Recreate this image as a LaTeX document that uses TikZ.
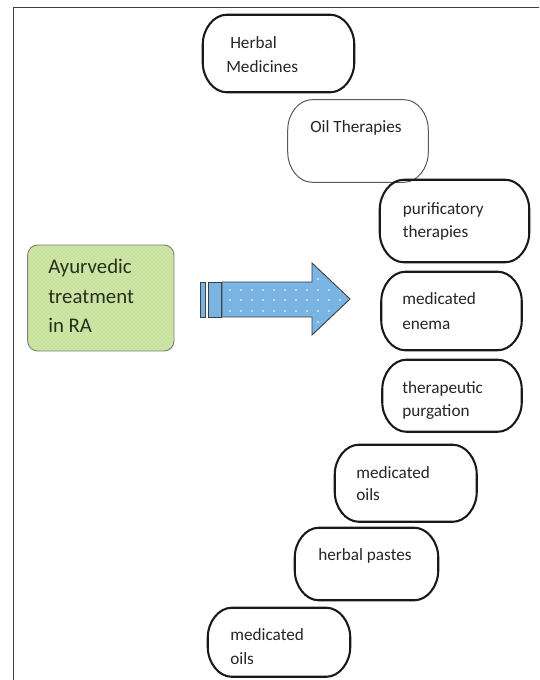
\documentclass[tikz,border=0pt]{standalone}
\usepackage{fontspec}
\setmainfont{Carlito}
\usetikzlibrary{calc,fit,patterns}
\definecolor{txt}{HTML}{262626}
\definecolor{frame}{HTML}{404040}
\definecolor{gfill}{HTML}{C8E29E}
\definecolor{gdot}{HTML}{E2F0CC}
\definecolor{gtxt}{HTML}{26301A}
\definecolor{afill}{HTML}{7AB4E2}
\definecolor{adot}{HTML}{D6EAF8}
\newcommand\pillbox[6]{%
 \node[fit={(#2,#3) (#4,#5)}, inner sep=0pt, draw=none] (#1) {};
 \draw[#6] ($(#1.north west)+(24,0)$) -- ($(#1.north east)+(-24,0)$)
   .. controls ($(#1.north east)+(-11,0)$) and ($(#1.north east)+(0,14)$) .. ($(#1.north east)+(0,30)$)
   -- ($(#1.south east)+(0,-30)$)
   .. controls ($(#1.south east)+(0,-14)$) and ($(#1.south east)+(-11,0)$) .. ($(#1.south east)+(-24,0)$)
   -- ($(#1.south west)+(24,0)$)
   .. controls ($(#1.south west)+(11,0)$) and ($(#1.south west)+(0,-14)$) .. ($(#1.south west)+(0,-30)$)
   -- ($(#1.north west)+(0,30)$)
   .. controls ($(#1.north west)+(0,14)$) and ($(#1.north west)+(11,0)$) .. ($(#1.north west)+(24,0)$) -- cycle;
}
\begin{document}
\begin{tikzpicture}[x=0.75pt,y=-0.75pt,
  thick pill/.style={draw=black!90, line width=1.55pt},
  thin pill/.style={draw=black!65, line width=0.75pt},
  lbl/.style={anchor=base west, inner sep=0pt, text=txt, font=\fontsize{12.9}{15}\selectfont},
  glbl/.style={anchor=base west, inner sep=0pt, text=gtxt, font=\fontsize{15.6}{18}\selectfont},
  ]
\useasboundingbox (0,0) rectangle (539,680);
\clip (0,0) rectangle (539,680);
\fill[white] (0,0) rectangle (539,680);
% outer frame
\draw[draw=frame, line width=1.3pt] (13.4,700) -- (13.4,7.5) -- (560,7.5);

% green box
\node[fit={(27.7,245) (174,351)}, inner sep=0pt, draw=black!50, line width=0.7pt,
      rounded corners=7.5pt, preaction={fill=gfill}, pattern=crosshatch dots, pattern color=gdot] (ayur) {};
\node[glbl] (ay1) at (48,274) {Ayurvedic};
\node[glbl] (ay2) at (48,304) {treatment};
\node[glbl] (ay3) at (48,332) {in RA};

% block arrow
\draw[draw=black!75, line width=0.7pt, fill=afill] (200,282) rectangle (205,317);
\draw[draw=black!75, line width=0.7pt, fill=afill] (208,282) rectangle (221,317);
\begin{scope}
\path[clip] (222,282) -- (312,282) -- (312,263) -- (350,299) -- (312,335) -- (312,317) -- (222,317) -- cycle;
\fill[afill] (222,263) rectangle (350,335);
\foreach \yy in {279,290,300,311,322} {
  \foreach \xx in {230,241,...,345} {
    \fill[adot] (\xx,\yy) circle (0.9pt);
  }
}
\end{scope}
\draw[draw=black!75, line width=0.7pt] (222,282) -- (312,282) -- (312,263) -- (350,299) -- (312,335) -- (312,317) -- (222,317) -- cycle;

% pill boxes
\pillbox{hm}{203}{15}{354}{92}{thick pill}
\node[lbl] (hm1) at (230,49) {Herbal};
\node[lbl] (hm2) at (226,73) {Medicines};

\pillbox{oil}{288}{100}{428}{182}{thin pill}
\node[lbl] (oil1) at (310,133) {Oil Therapies};

\pillbox{pur}{380}{180}{529}{262}{thick pill}
\node[lbl] (pur1) at (402.5,215) {purificatory};
\node[lbl] (pur2) at (402.5,238) {therapies};

\pillbox{ene}{381.5}{272}{521.5}{350}{thick pill}
\node[lbl] (ene1) at (402,305) {medicated};
\node[lbl] (ene2) at (402,329) {enema};

\pillbox{pg}{382.5}{360}{521.5}{431.5}{thick pill}
\node[lbl] (pg1) at (402,393) {therapeutic};
\node[lbl] (pg2) at (402,416.5) {purgation};

\pillbox{mo1}{335}{445}{476.5}{521.5}{thick pill}
\node[lbl] (mo1a) at (356,478) {medicated};
\node[lbl] (mo1b) at (356,500) {oils};

\pillbox{hp}{295}{528}{438}{600}{thick pill}
\node[lbl] (hp1) at (318,560.5) {herbal pastes};

\pillbox{mo2}{208}{608}{350}{676.5}{thick pill}
\node[lbl] (mo2a) at (230,640.5) {medicated};
\node[lbl] (mo2b) at (230,664) {oils};
\end{tikzpicture}
\end{document}
